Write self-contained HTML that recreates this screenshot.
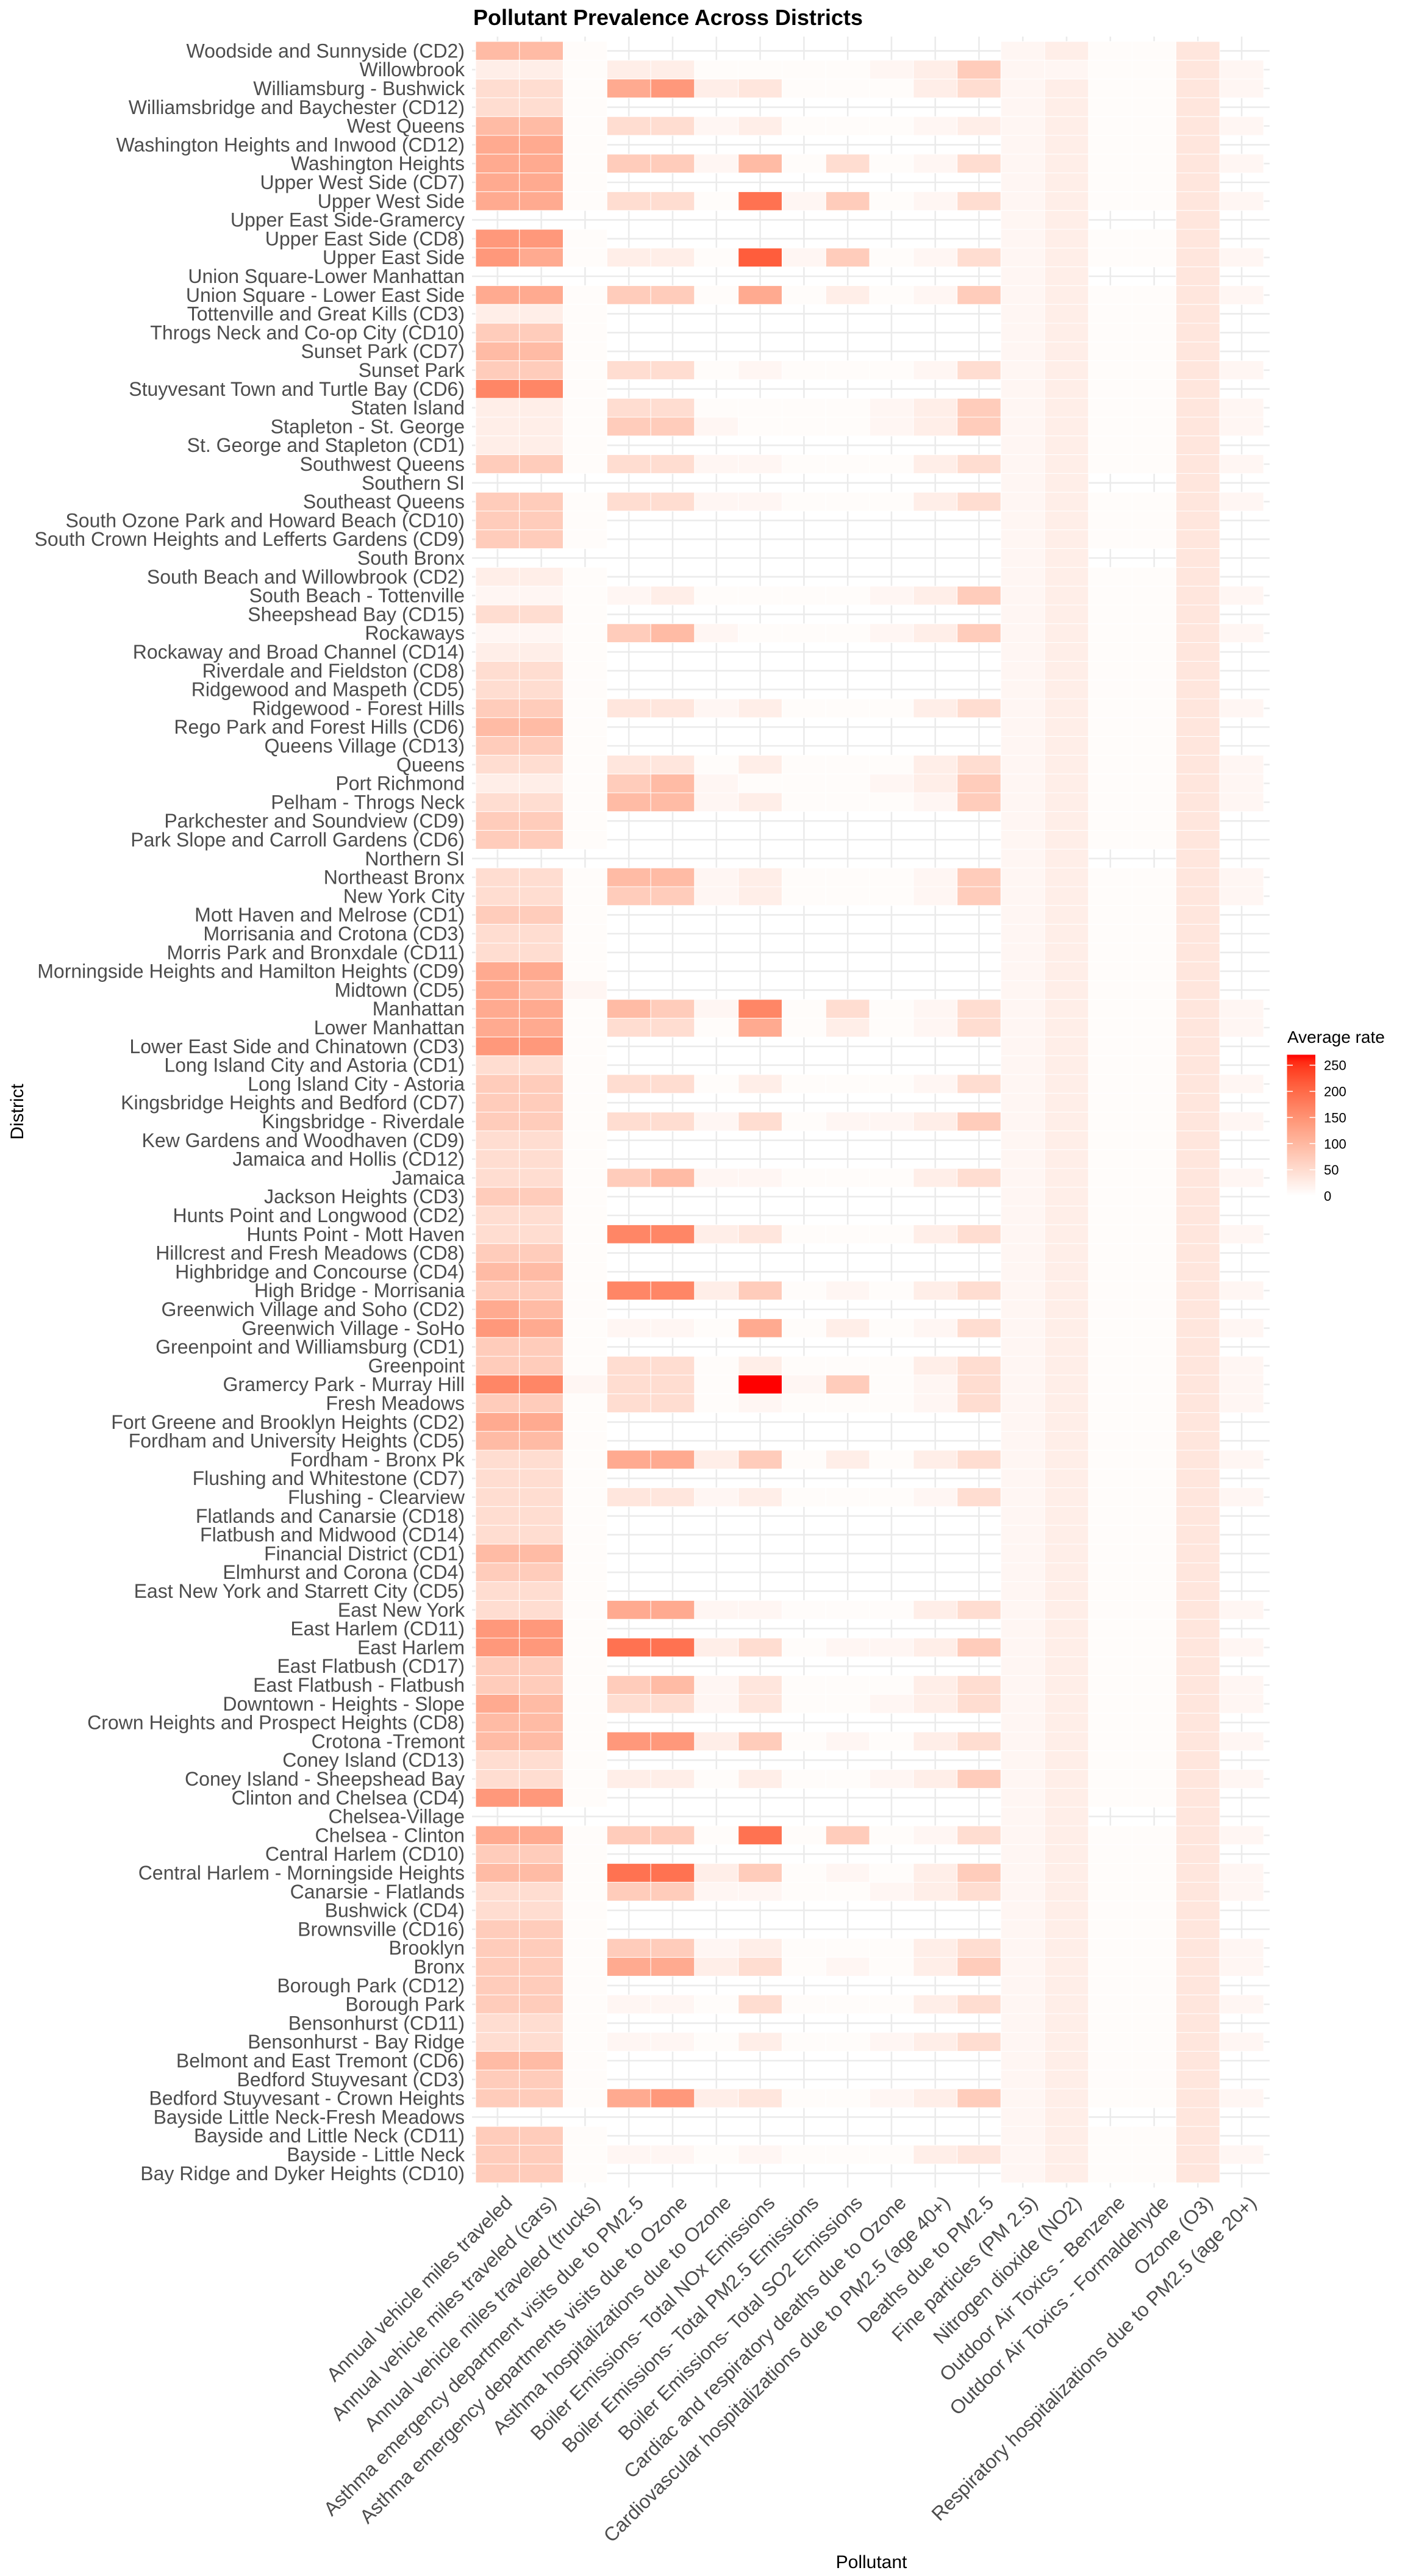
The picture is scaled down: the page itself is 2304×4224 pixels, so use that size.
<!DOCTYPE html>
<html><head><meta charset="utf-8">
<style>
html,body{margin:0;padding:0;background:#fff;}
svg{display:block;}
text{font-family:"Liberation Sans",Arial,sans-serif;}
</style></head>
<body>
<svg id="s" xmlns="http://www.w3.org/2000/svg" width="2304" height="4224" viewBox="0 0 2304 4224">
<rect width="2304" height="4224" fill="#fff"/>
<text x="776" y="41" font-size="36" font-weight="bold" fill="#000">Pollutant Prevalence Across Districts</text>
<text x="1429" y="4211" font-size="30" text-anchor="middle" fill="#000">Pollutant</text>
<text transform="translate(38,1823) rotate(-90)" font-size="30" text-anchor="middle" fill="#000">District</text>
<text x="2111" y="1710" font-size="28" fill="#000">Average rate</text>
<g id="grid"></g><g id="tiles"></g><g id="ylab"></g><g id="xlab"></g><g id="leg"></g>
</svg>
<script>
var NS="http://www.w3.org/2000/svg";
function el(tag,attrs,txt,parent){var e=document.createElementNS(NS,tag);for(var k in attrs)e.setAttribute(k,attrs[k]);if(txt!=null)e.textContent=txt;parent.appendChild(e);return e;}
function lab2rgb(t){
  var L=100+(53.24-100)*t,a=80.09*t,b=67.20*t;
  var y=(L+16)/116,x=a/500+y,z=y-b/200;
  function f(v){var c=v*v*v;return c>0.008856?c:(v-16/116)/7.787;}
  x=0.95047*f(x);y=f(y);z=1.08883*f(z);
  var r=x*3.2406+y*-1.5372+z*-0.4986,g=x*-0.9689+y*1.8758+z*0.0415,bb=x*0.0557+y*-0.2040+z*1.0570;
  function gm(c){c=c>0.0031308?1.055*Math.pow(c,1/2.4)-0.055:12.92*c;return Math.max(0,Math.min(255,Math.round(c*255)));}
  return "rgb("+gm(r)+","+gm(g)+","+gm(bb)+")";
}
var cols=["Annual vehicle miles traveled","Annual vehicle miles traveled (cars)","Annual vehicle miles traveled (trucks)","Asthma emergency department visits due to PM2.5","Asthma emergency departments visits due to Ozone","Asthma hospitalizations due to Ozone","Boiler Emissions- Total NOx Emissions","Boiler Emissions- Total PM2.5 Emissions","Boiler Emissions- Total SO2 Emissions","Cardiac and respiratory deaths due to Ozone","Cardiovascular hospitalizations due to PM2.5 (age 40+)","Deaths due to PM2.5","Fine particles (PM 2.5)","Nitrogen dioxide (NO2)","Outdoor Air Toxics - Benzene","Outdoor Air Toxics - Formaldehyde","Ozone (O3)","Respiratory hospitalizations due to PM2.5 (age 20+)"];
var rows=[
["Woodside and Sunnyside (CD2)","C44."],["Willowbrook","F11.11....,13,,..h,"],["Williamsburg - Bushwick","U22.561h...12"],["Williamsbridge and Baychester (CD12)","C22."],["West Queens","U44.22,1...,1"],["Washington Heights and Inwood (CD12)","C55."],["Washington Heights","U55.33,4.2.,2"],["Upper West Side (CD7)","C55."],["Upper West Side","U55.22.8,3.,2"],["Upper East Side-Gramercy","M"],["Upper East Side (CD8)","C66."],["Upper East Side","U65.11.9,3.,2"],["Union Square-Lower Manhattan","M"],["Union Square - Lower East Side","U55.33.5.1.,3"],["Tottenville and Great Kills (CD3)","C11."],["Throgs Neck and Co-op City (CD10)","C33."],["Sunset Park (CD7)","C44."],["Sunset Park","U33.22.,...,2"],["Stuyvesant Town and Turtle Bay (CD6)","C77."],["Staten Island","U11.22....,13"],
["Stapleton - St. George","U11.33,...,13"],["St. George and Stapleton (CD1)","C11."],["Southwest Queens","U33.22,,...12"],["Southern SI","M"],["Southeast Queens","U33.22,,...12"],["South Ozone Park and Howard Beach (CD10)","C33."],["South Crown Heights and Lefferts Gardens (CD9)","C33."],["South Bronx","M"],["South Beach and Willowbrook (CD2)","C11."],["South Beach - Tottenville","U,,.,1....,13"],["Sheepshead Bay (CD15)","C22."],["Rockaways","U,,.34,...,13"],["Rockaway and Broad Channel (CD14)","C11."],["Riverdale and Fieldston (CD8)","C22."],["Ridgewood and Maspeth (CD5)","C22."],["Ridgewood - Forest Hills","U33.hh,1...12"],["Rego Park and Forest Hills (CD6)","C44."],["Queens Village (CD13)","C33."],["Queens","U22.hh.1...12"],["Port Richmond","U11.34,...,13"],
["Pelham - Throgs Neck","U22.44,1...,3"],["Parkchester and Soundview (CD9)","C33."],["Park Slope and Carroll Gardens (CD6)","C33."],["Northern SI","M"],["Northeast Bronx","U22.44,1...,3"],["New York City","U22.33,1...,3"],["Mott Haven and Melrose (CD1)","C33."],["Morrisania and Crotona (CD3)","C22."],["Morris Park and Bronxdale (CD11)","C22."],["Morningside Heights and Hamilton Heights (CD9)","C55."],["Midtown (CD5)","C54,"],["Manhattan","U55.43,7.2.,2"],["Lower Manhattan","U55.22.5.1.,2"],["Lower East Side and Chinatown (CD3)","C66."],["Long Island City and Astoria (CD1)","C22."],["Long Island City - Astoria","U33.22.1...,2"],["Kingsbridge Heights and Bedford (CD7)","C33."],["Kingsbridge - Riverdale","U33.22,2.,,13"],["Kew Gardens and Woodhaven (CD9)","C22."],["Jamaica and Hollis (CD12)","C22."],
["Jamaica","U22.34,,...12"],["Jackson Heights (CD3)","C33."],["Hunts Point and Longwood (CD2)","C22."],["Hunts Point - Mott Haven","U22.771h...12"],["Hillcrest and Fresh Meadows (CD8)","C33."],["Highbridge and Concourse (CD4)","C44."],["High Bridge - Morrisania","U33.7713.,.12"],["Greenwich Village and Soho (CD2)","C54."],["Greenwich Village - SoHo","U65.,,.5.1.,2"],["Greenpoint and Williamsburg (CD1)","C33."],["Greenpoint","U33.22.1...12"],["Gramercy Park - Murray Hill","U77,22.X,3.,2"],["Fresh Meadows","U33.22.,...,2"],["Fort Greene and Brooklyn Heights (CD2)","C55."],["Fordham and University Heights (CD5)","C44."],["Fordham - Bronx Pk","U22.5513.1.12"],["Flushing and Whitestone (CD7)","C22."],["Flushing - Clearview","U22.hh,1...,2"],["Flatlands and Canarsie (CD18)","C22."],["Flatbush and Midwood (CD14)","C22."],
["Financial District (CD1)","C44."],["Elmhurst and Corona (CD4)","C33."],["East New York and Starrett City (CD5)","C22."],["East New York","U22.55,,...12"],["East Harlem (CD11)","C66."],["East Harlem","U66.8812.,,13"],["East Flatbush (CD17)","C33."],["East Flatbush - Flatbush","U33.34,h...12"],["Downtown - Heights - Slope","U54.22,h..,12"],["Crown Heights and Prospect Heights (CD8)","C44."],["Crotona -Tremont","U44.6613.,.12"],["Coney Island (CD13)","C22."],["Coney Island - Sheepshead Bay","U22.11.1..,13"],["Clinton and Chelsea (CD4)","C66."],["Chelsea-Village","M"],["Chelsea - Clinton","U55.33.8.3.,2"],["Central Harlem (CD10)","C33."],["Central Harlem - Morningside Heights","U44.8813.,.13"],["Canarsie - Flatlands","U22.33,,..,12"],["Bushwick (CD4)","C22."],
["Brownsville (CD16)","C33."],["Brooklyn","U33.33,1...12"],["Bronx","U33.5512.,.13"],["Borough Park (CD12)","C33."],["Borough Park","U33.,,.2...12"],["Bensonhurst (CD11)","C22."],["Bensonhurst - Bay Ridge","U22.,,.1..,12"],["Belmont and East Tremont (CD6)","C44."],["Bedford Stuyvesant (CD3)","C33."],["Bedford Stuyvesant - Crown Heights","U33.561h..,13"],["Bayside Little Neck-Fresh Meadows","M"],["Bayside and Little Neck (CD11)","C33."],["Bayside - Little Neck","U33.,,.,...1h"],["Bay Ridge and Dyker Heights (CD10)","C33."]
];
function code(c){var t=c[0],v=c.slice(1);
  if(t=="C")return v+"---------"+",1..h-";
  if(t=="U")return v+",1..h,";
  if(t=="M")return "------------,1--h-";
  return v;}
function val(ch){if(ch==".")return 0.018;if(ch==",")return 0.045;if(ch=="h")return 0.13;if(ch=="X")return 1.0;return parseInt(ch,10)/10*0.88;}
var X0=780,CW=71.78,Y0=68,RH=30.8,PL=774,PR=2082,PT=60,PB=3587;
var grid=document.getElementById("grid"),tiles=document.getElementById("tiles"),yl=document.getElementById("ylab"),xl=document.getElementById("xlab"),lg=document.getElementById("leg");
for(var i=0;i<rows.length;i++){var cy=Y0+(i+0.5)*RH;el("line",{x1:PL,x2:PR,y1:cy,y2:cy,stroke:"#ebebeb","stroke-width":2.6},null,grid);}
for(var j=0;j<18;j++){var cx=X0+(j+0.5)*CW;el("line",{x1:cx,x2:cx,y1:PT,y2:PB,stroke:"#ebebeb","stroke-width":2.6},null,grid);}
for(var i=0;i<rows.length;i++){
  var s=code(rows[i][1]);var y=Y0+i*RH;
  for(var j=0;j<18;j++){var ch=s.charAt(j);if(ch=="-"||ch=="")continue;
    el("rect",{x:(X0+j*CW).toFixed(2),y:y.toFixed(2),width:CW.toFixed(2),height:RH.toFixed(2),fill:lab2rgb(val(ch)),stroke:"#fff","stroke-width":1},null,tiles);}
  el("text",{x:762,y:(y+RH/2+11).toFixed(1),"font-size":32,"text-anchor":"end",fill:"#4d4d4d"},rows[i][0],yl);
}
for(var j=0;j<18;j++){var cx=X0+(j+0.5)*CW+26,cy=3614;
  el("text",{x:0,y:0,"font-size":32,"text-anchor":"end",fill:"#4d4d4d",transform:"translate("+cx.toFixed(1)+","+cy+") rotate(-45)"},cols[j],xl);}
var defs=el("defs",{},null,lg);var gr=el("linearGradient",{id:"lg",x1:0,y1:1,x2:0,y2:0},null,defs);
for(var k=0;k<=20;k++){el("stop",{offset:(k/20),"stop-color":lab2rgb(k/20)},null,gr);}
var LB=1961,LT=1729.5;
el("rect",{x:2110.5,y:LT,width:46.5,height:LB-LT,fill:"url(#lg)"},null,lg);
for(var v=0;v<=250;v+=50){var ty=LB-v/270*(LB-LT);
  if(v>0){el("line",{x1:2110.5,x2:2120,y1:ty,y2:ty,stroke:"#fff","stroke-width":1.5},null,lg);
  el("line",{x1:2147.5,x2:2157,y1:ty,y2:ty,stroke:"#fff","stroke-width":1.5},null,lg);}
  el("text",{x:2171,y:(ty+8).toFixed(1),"font-size":22,fill:"#000"},String(v),lg);}
</script>
</body></html>
